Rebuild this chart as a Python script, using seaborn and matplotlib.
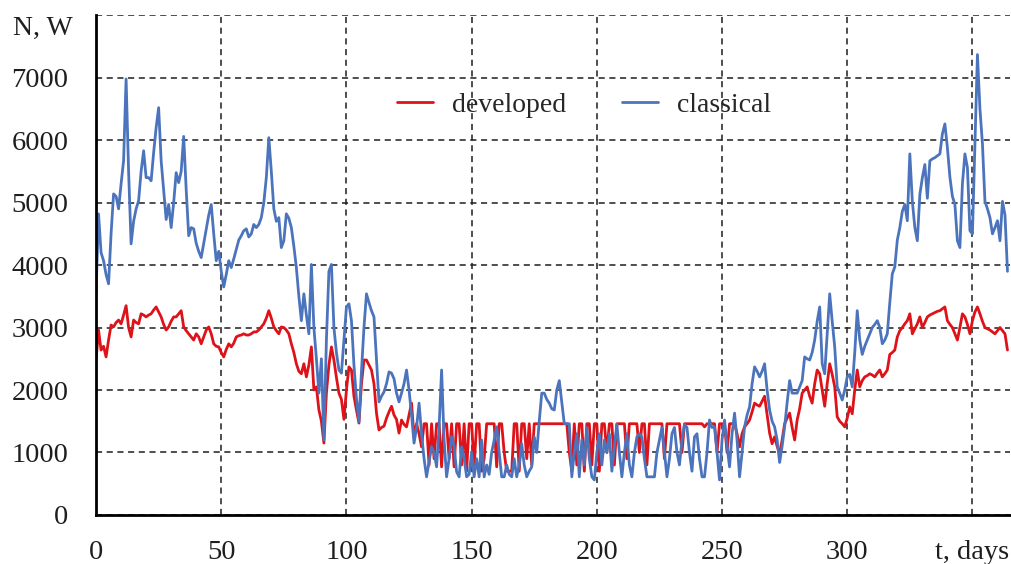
import matplotlib
matplotlib.use("Agg")
import matplotlib.pyplot as plt
import numpy as np
import pandas as pd
import seaborn as sns

# daily power, W
classical = [
    3550, 4820, 4200, 4070, 3850, 3700, 4500, 5140, 5100, 4900,
    5300, 5670, 6980, 5500, 4340, 4700, 4900, 5030, 5500, 5830,
    5400, 5400, 5350, 5800, 6200, 6520, 5670, 5200, 4730, 4970,
    4600, 5000, 5480, 5320, 5500, 6060, 5210, 4470, 4600, 4580,
    4350, 4220, 4120, 4350, 4580, 4800, 4970, 4500, 4070, 4220,
    3900, 3650, 3850, 4070, 3960, 4100, 4250, 4400, 4470, 4550,
    4580, 4450, 4500, 4650, 4600, 4650, 4760, 5000, 5400, 6040,
    5500, 4900, 4700, 4760, 4280, 4390, 4820, 4750, 4600, 4300,
    3960, 3500, 3110, 3540, 3200, 2900, 4010, 3000, 2500, 1950,
    2500, 1200, 2800, 3900, 4010, 3000, 2600, 2320, 2270, 2800,
    3330, 3380, 3110, 2400, 1860, 1490, 2300, 3000, 3540, 3400,
    3270, 3170, 2500, 1810, 1900, 1970, 2100, 2290, 2270, 2180,
    1950, 1810, 1950, 2100, 2320, 2000, 1600, 1150, 1400, 1790,
    1300, 900, 610, 850, 1090, 1000, 770, 1400, 2320, 1200,
    610, 900, 1250, 1100, 690, 610, 1090, 900, 610, 650,
    1000, 610, 900, 610, 1200, 610, 800, 650, 1000, 1200,
    1410, 1000, 610, 610, 800, 650, 610, 900, 610, 800,
    1140, 800, 610, 700, 770, 1250, 1000, 1500, 1950, 1950,
    1850, 1790, 1700, 1680, 2000, 2150, 1800, 1460, 1460, 1460,
    610, 1000, 1300, 610, 1200, 800, 1400, 900, 610, 560,
    1000, 1300, 800, 1200, 1000, 1300, 700, 1100, 1450, 1000,
    610, 1000, 1300, 800, 610, 1000, 1250, 1300, 1250, 900,
    610, 610, 610, 610, 1000, 1200, 1400, 1000, 610, 900,
    1300, 1400, 1000, 800, 1200, 1450, 1400, 1000, 700, 1250,
    1300, 900, 610, 610, 1000, 1520, 1400, 1410, 1000, 560,
    1200, 1520, 1100, 770, 1300, 1630, 1200, 610, 1000, 1410,
    1600, 1730, 2100, 2370, 2300, 2210, 2300, 2420, 2000, 1680,
    1500, 1410, 1200, 840, 1100, 1410, 1800, 2150, 1950, 1950,
    1950, 2050, 2150, 2530, 2500, 2480, 2600, 2800, 3100, 3330,
    2420, 2260, 2900, 3540, 3100, 2690, 2050, 1950, 1840, 2000,
    2210, 2250, 2050, 2600, 3270, 2800, 2570, 2700, 2800, 2900,
    3000, 3050, 3110, 3000, 2740, 2800, 2900, 3400, 3860, 3970,
    4400, 4600, 4860, 4970, 4710, 5780, 5020, 4600, 4390, 5130,
    5400, 5610, 5070, 5670, 5700, 5720, 5750, 5780, 6100, 6260,
    5880, 5410, 5100, 4970, 4390, 4280, 5300, 5780, 5560, 4550,
    4500, 5940, 7370, 6500, 5940, 5020, 4900, 4760, 4500, 4600,
    4710, 4390, 5020, 4800, 3900,
]

developed = [
    2480, 2960, 2640, 2700, 2530, 2800, 3040, 3010, 3080, 3120,
    3060, 3200, 3350, 3000, 2850, 3120, 3080, 3060, 3220, 3200,
    3170, 3200, 3220, 3280, 3330, 3250, 3170, 3050, 2960, 3010,
    3100, 3170, 3170, 3220, 3270, 3010, 2950, 2900, 2850, 2800,
    2900, 2850, 2740, 2850, 2960, 3010, 2900, 2740, 2700, 2690,
    2600, 2530, 2650, 2740, 2690, 2750, 2850, 2870, 2880, 2900,
    2880, 2880, 2900, 2930, 2930, 2960, 3010, 3060, 3150, 3270,
    3150, 3010, 2950, 2900, 3010, 3000, 2960, 2900, 2740, 2600,
    2420, 2300, 2260, 2420, 2210, 2400, 2690, 2000, 2050, 1680,
    1500, 1150, 1950, 2400, 2690, 2480, 2200, 1950, 1850, 1530,
    2000, 2370, 2320, 1900, 1680, 1470, 2100, 2480, 2480, 2400,
    2320, 2100, 1630, 1360, 1400, 1420, 1550, 1650, 1740, 1600,
    1530, 1310, 1520, 1450, 1410, 1600, 1790, 1250, 1460, 1300,
    1090, 1460, 1460, 800, 1460, 900, 1460, 1460, 770, 1460,
    1460, 900, 1460, 770, 1460, 1460, 800, 1460, 700, 1460,
    1460, 770, 1460, 1460, 700, 900, 1460, 1460, 1460, 1460,
    770, 1460, 1460, 1000, 700, 700, 700, 1460, 1460, 700,
    1460, 1460, 900, 1460, 800, 1460, 1460, 1460, 1460, 1460,
    1460, 1460, 1460, 1460, 1460, 1460, 1460, 1460, 1460, 1000,
    700, 1460, 800, 1460, 1460, 700, 1460, 1460, 800, 1460,
    1460, 700, 1460, 1460, 1000, 1460, 1460, 800, 1460, 1460,
    1460, 1460, 900, 1460, 1460, 1460, 1460, 1000, 1460, 1460,
    800, 1460, 1460, 1460, 1460, 1460, 1460, 900, 1460, 1460,
    1460, 1460, 1460, 1460, 1000, 1460, 1460, 1460, 1460, 1460,
    1460, 1460, 1460, 1410, 1460, 1460, 1460, 1460, 1000, 1460,
    1460, 1460, 1000, 1460, 1460, 1460, 1300, 1090, 1300, 1410,
    1460, 1520, 1650, 1790, 1760, 1740, 1820, 1900, 1600, 1310,
    1140, 1250, 1100, 980, 1200, 1460, 1550, 1630, 1400, 1200,
    1520, 1700, 1950, 2000, 2050, 1900, 1790, 2100, 2320, 2260,
    2000, 1740, 2100, 2420, 2250, 2050, 1570, 1500, 1460, 1410,
    1550, 1730, 1620, 2000, 2320, 2050, 2150, 2210, 2230, 2260,
    2240, 2210, 2270, 2320, 2210, 2260, 2320, 2570, 2600, 2640,
    2850, 2950, 3000, 3060, 3110, 3220, 2900, 2980, 3060, 3170,
    3000, 3080, 3170, 3200, 3220, 3240, 3260, 3270, 3300, 3330,
    3110, 3050, 3000, 2900, 2800, 3000, 3220, 3170, 3050, 2900,
    3110, 3250, 3330, 3220, 3100, 3000, 2980, 2960, 2930, 2900,
    2950, 3000, 2950, 2900, 2640,
]

days = np.arange(len(classical))
x_ticks = [0, 50, 100, 150, 200, 250, 300, 350]
x_labels = ["0", "50", "100", "150", "200", "250", "300", "t, days"]
y_ticks = [0, 1000, 2000, 3000, 4000, 5000, 6000, 7000, 8000]
y_labels = ["0", "1000", "2000", "3000", "4000", "5000", "6000", "7000", ""]

df = pd.DataFrame({
    "t": np.concatenate([days, days]),
    "N": developed + classical,
    "series": ["developed"] * len(days) + ["classical"] * len(days),
})

sns.set_style("white")
plt.rcParams["font.family"] = ["Liberation Serif", "DejaVu Serif"]

fig = plt.figure(figsize=(10.11, 5.64), dpi=100)
ax = fig.add_axes([0.095, 0.087, 0.904, 0.886])

sns.lineplot(data=df, x="t", y="N", hue="series",
             palette={"developed": "#de1219", "classical": "#4b74bd"},
             linewidth=2.0, ax=ax)

ax.set_xlim(0, 365)
ax.set_ylim(0, 8000)
ax.set_xticks(x_ticks)
ax.set_xticklabels(x_labels)
ax.set_yticks(y_ticks)
ax.set_yticklabels(y_labels)
ax.set_xlabel("")
ax.set_ylabel("")
ax.tick_params(axis="both", length=0, labelsize=20.5, colors="#1e1e1e")
ax.tick_params(axis="y", pad=20)
ax.tick_params(axis="x", pad=18)

ax.grid(True, color="#1e1e1e", linestyle=(0, (4, 3)), linewidth=1.1)
for s in ["top", "right"]:
    ax.spines[s].set_visible(False)
for s in ["left", "bottom"]:
    ax.spines[s].set_color("black")
    ax.spines[s].set_linewidth(2)

ax.legend(loc="center", bbox_to_anchor=(0.534, 0.82), ncol=2, frameon=False,
          fontsize=20, handlelength=1.3, handletextpad=0.7, columnspacing=2.0)

fig.text(13 / 1011, 1 - 28 / 564, "N, W", fontsize=20, ha="left", va="center",
         color="#1e1e1e")

fig.savefig("out.png", dpi=100)
